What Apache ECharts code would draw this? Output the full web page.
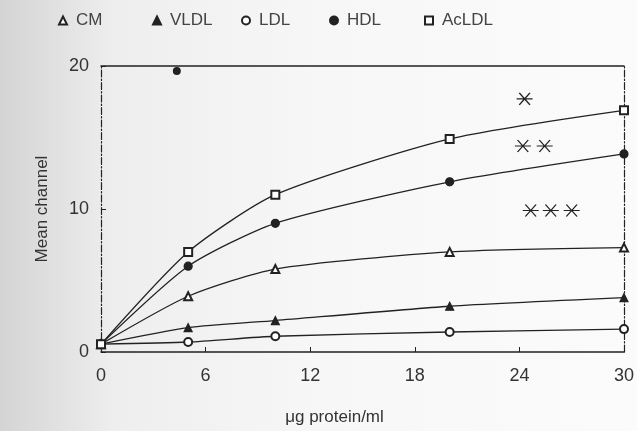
<!DOCTYPE html>
<html>
<head>
<meta charset="utf-8">
<script src="https://cdn.jsdelivr.net/npm/echarts@6/dist/echarts.min.js"></script>
<style>
html,body{margin:0;padding:0;}
#c{width:637px;height:431px;}
</style>
</head>
<body>
<div id="c"></div>
<script>
// data
var doses = [0, 5, 10, 20, 30];
var cm    = [0.55, 3.9, 5.8, 7.0, 7.3];
var vldl  = [0.55, 1.7, 2.2, 3.2, 3.8];
var ldl   = [0.55, 0.7, 1.1, 1.4, 1.6];
var hdl   = [0.55, 6.0, 9.0, 11.9, 13.85];
var acldl = [0.55, 7.0, 11.0, 14.9, 16.9];
var strayHdl = [[4.35, 19.65]];
var asterisks = [[24.3, 17.7], [24.2, 14.4], [25.45, 14.4], [24.65, 9.9], [25.8, 9.9], [27.0, 9.9]];
var xTicks = [0, 6, 12, 18, 24, 30];
var yTicks = [0, 10, 20];

function pairs(v){ return doses.map(function(d,i){ return [d, v[i]]; }); }

var ink = '#222';
var font = 'Liberation Sans';
var names = ['CM','VLDL','LDL','HDL','AcLDL'];
var symbols = ['emptyTriangle','triangle','emptyCircle','circle','emptyRect'];
var vals = [cm, vldl, ldl, hdl, acldl];
var legendLeft = [58, 152, 241, 329, 424];

var series = names.map(function(n,i){
  return {
    name: n, type: 'line', data: pairs(vals[i]), smooth: 0.22,
    symbol: symbols[i], symbolSize: 8, showAllSymbol: true,
    lineStyle: {color: ink, width: 1.3},
    itemStyle: {color: ink, borderColor: ink, borderWidth: 1.2},
    z: 3
  };
});
series.push({
  name: 'HDL', type: 'scatter', data: strayHdl, symbol: 'circle', symbolSize: 8,
  itemStyle: {color: ink, opacity: 1}
});
series.push({
  name: 'sig', type: 'scatter', data: asterisks,
  symbol: 'path://M0,5L12,5M2,0L10,10M10,0L2,10', symbolSize: [16, 12],
  itemStyle: {color: 'none', borderColor: ink, borderWidth: 1.2, opacity: 1}
});

var legends = names.map(function(n,i){
  return {
    data: [{name: n, icon: symbols[i]}],
    left: legendLeft[i], top: 12, padding: 0, itemWidth: 8, itemHeight: 8,
    selectedMode: false,
    textStyle: {fontFamily: font, fontSize: 17, color: '#444', padding: [0,0,0,4]}
  };
});

var chart = echarts.init(document.getElementById('c'));
chart.setOption({
  animation: false,
  backgroundColor: {
    type: 'linear', x: 0, y: 0, x2: 1, y2: 0,
    colorStops: [{offset: 0, color: '#d4d4d4'}, {offset: 0.18, color: '#eeeeee'}, {offset: 0.5, color: '#f7f7f7'}, {offset: 1, color: '#fbfbfb'}]
  },
  legend: legends,
  grid: {left: 101, right: 11, top: 66, bottom: 75},
  xAxis: [{
    type: 'value', min: 0, max: 30, interval: 6,
    axisLine: {show: true, onZero: false, lineStyle: {color: ink, width: 1.5}},
    axisTick: {show: true, inside: true, length: 5, lineStyle: {color: ink}},
    axisLabel: {fontFamily: font, fontSize: 18, color: '#333', margin: 15},
    splitLine: {show: false},
    name: 'μg protein/ml', nameLocation: 'middle', nameGap: 57,
    nameTextStyle: {fontFamily: font, fontSize: 17, color: '#333', padding: [0,56,0,0]}
  }, {
    type: 'value', min: 0, max: 30, position: 'top',
    axisLine: {show: true, onZero: false, lineStyle: {color: ink, width: 1.5}},
    axisTick: {show: false}, axisLabel: {show: false}, splitLine: {show: false}
  }],
  yAxis: [{
    type: 'value', min: 0, max: 20, interval: 10,
    axisLine: {show: true, onZero: false, lineStyle: {color: ink, width: 1.2, type: [7,2,1.5,2]}},
    axisTick: {show: true, inside: true, length: 5, lineStyle: {color: ink}},
    axisLabel: {fontFamily: font, fontSize: 18, color: '#333', margin: 12},
    splitLine: {show: false},
    name: 'Mean channel', nameLocation: 'middle', nameGap: 50, nameRotate: 90,
    nameTextStyle: {fontFamily: font, fontSize: 17, color: '#333'}
  }, {
    type: 'value', min: 0, max: 20, position: 'right',
    axisLine: {show: true, onZero: false, lineStyle: {color: ink, width: 1.2, type: [7,2,1.5,2]}},
    axisTick: {show: false}, axisLabel: {show: false}, splitLine: {show: false}
  }],
  series: series
});
</script>
</body>
</html>
